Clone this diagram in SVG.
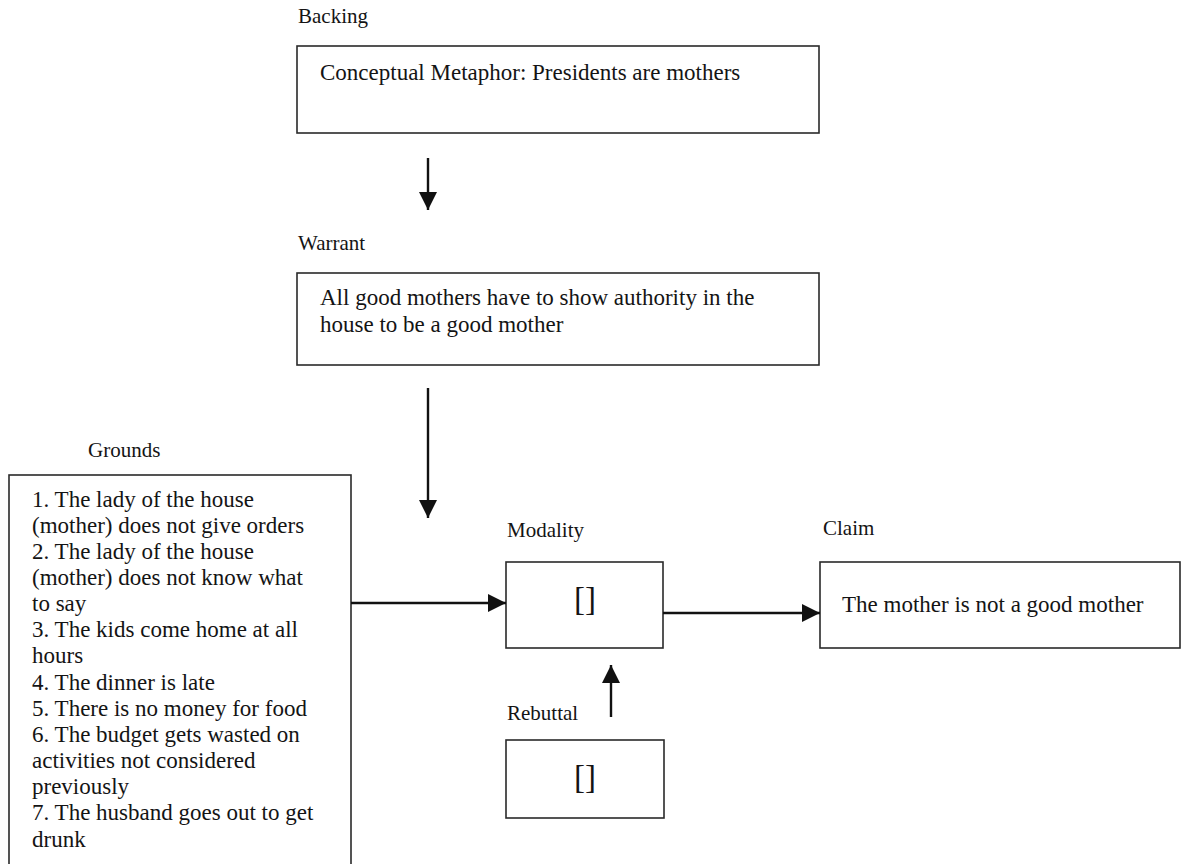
<svg xmlns="http://www.w3.org/2000/svg" width="1183" height="864" viewBox="0 0 1183 864">
  <style>
    .box { fill: #ffffff; stroke: #2a2a2a; stroke-width: 1.6; }
    .txt { font-family: "Liberation Serif", "Times New Roman", serif; font-size: 23px; fill: #141414; }
    .lbl { font-family: "Liberation Serif", "Times New Roman", serif; font-size: 21px; fill: #141414; }
    .mark { font-family: "Liberation Serif", "Times New Roman", serif; font-size: 33px; fill: #141414; text-anchor: middle; }
    .conn { stroke: #111111; stroke-width: 2.4; fill: none; marker-end: url(#arrow); }
  </style>
  <defs>
    <marker id="arrow" markerUnits="userSpaceOnUse" markerWidth="18" markerHeight="18" refX="18" refY="9" orient="auto">
      <path d="M0,0 L18,9 L0,18 z" fill="#111111"/>
    </marker>
  </defs>
  <rect width="1183" height="864" fill="#ffffff"/>

  <g id="backing">
    <text class="lbl" x="298" y="23">Backing</text>
    <rect class="box" x="297" y="46" width="522" height="87"/>
    <text class="txt" x="320" y="80">Conceptual Metaphor: Presidents are mothers</text>
  </g>

  <g id="warrant">
    <text class="lbl" x="298" y="250">Warrant</text>
    <rect class="box" x="297" y="273" width="522" height="92"/>
    <text class="txt" x="320" y="305">All good mothers have to show authority in the</text>
    <text class="txt" x="320" y="332">house to be a good mother</text>
  </g>

  <g id="grounds">
    <text class="lbl" x="88" y="457">Grounds</text>
    <rect class="box" x="9" y="475" width="342" height="400"/>
    <text class="txt">
      <tspan x="32" y="507">1. The lady of the house</tspan>
      <tspan x="32" y="533">(mother) does not give orders</tspan>
      <tspan x="32" y="559">2. The lady of the house</tspan>
      <tspan x="32" y="585">(mother) does not know what</tspan>
      <tspan x="32" y="611">to say</tspan>
      <tspan x="32" y="637">3. The kids come home at all</tspan>
      <tspan x="32" y="663">hours</tspan>
      <tspan x="32" y="690">4. The dinner is late</tspan>
      <tspan x="32" y="716">5. There is no money for food</tspan>
      <tspan x="32" y="742">6. The budget gets wasted on</tspan>
      <tspan x="32" y="768">activities not considered</tspan>
      <tspan x="32" y="794">previously</tspan>
      <tspan x="32" y="820">7. The husband goes out to get</tspan>
      <tspan x="32" y="847">drunk</tspan>
    </text>
  </g>

  <g id="modality">
    <text class="lbl" x="507" y="537">Modality</text>
    <rect class="box" x="506" y="562" width="157" height="86"/>
    <text class="mark" x="585" y="610">[]</text>
  </g>

  <g id="claim">
    <text class="lbl" x="823" y="535">Claim</text>
    <rect class="box" x="820" y="562" width="360" height="86"/>
    <text class="txt" x="842" y="612">The mother is not a good mother</text>
  </g>

  <g id="rebuttal">
    <text class="lbl" x="507" y="720">Rebuttal</text>
    <rect class="box" x="506" y="740" width="158" height="78"/>
    <text class="mark" x="585" y="788">[]</text>
  </g>

  <g id="connectors">
    <line class="conn" x1="428" y1="158" x2="428" y2="210"/>
    <line class="conn" x1="428" y1="388" x2="428" y2="518"/>
    <line class="conn" x1="351" y1="603" x2="506" y2="603"/>
    <line class="conn" x1="663" y1="613" x2="820" y2="613"/>
    <line class="conn" x1="611" y1="717" x2="611" y2="665"/>
  </g>
</svg>
